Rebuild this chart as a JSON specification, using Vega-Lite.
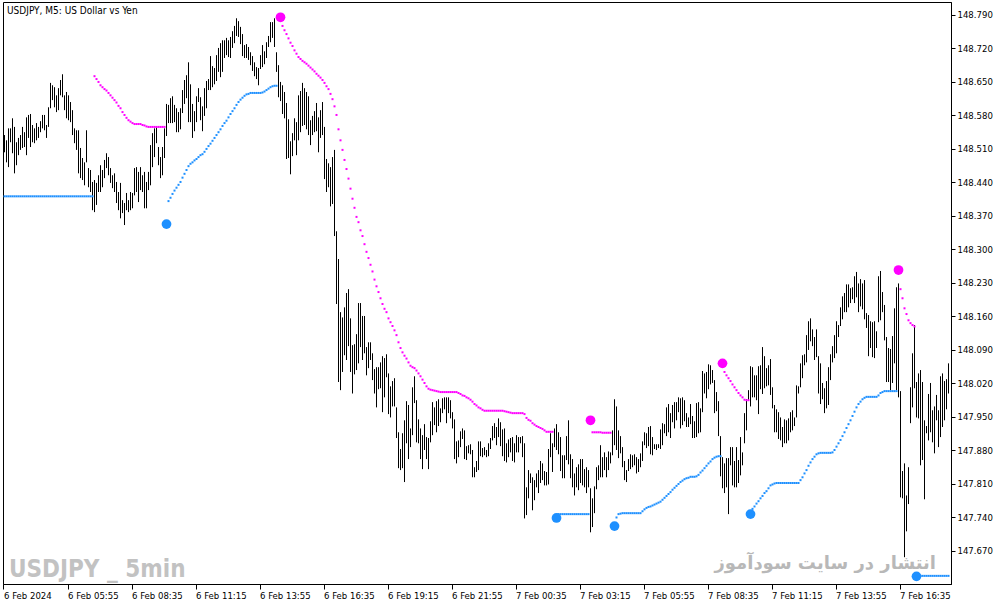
{
  "$schema": "https://vega.github.io/schema/vega-lite/v6.json",
  "width": 948,
  "height": 582,
  "autosize": {"type": "none"},
  "padding": {"left": 3, "top": 2, "right": 52, "bottom": 21},
  "background": "white",
  "title": {"text": "USDJPY, M5:  US Dollar vs Yen", "anchor": "start", "frame": "group", "orient": "top", "offset": -14, "dx": 4, "font": "DejaVu Sans Condensed, DejaVu Sans", "fontSize": 10, "fontWeight": "normal", "color": "black"},
  "datasets": {
    "bars": [
      {"i":0,"v":148.539,"l":148.503},{"i":1,"v":148.528,"l":148.482},{"i":2,"v":148.553,"l":148.472},{"i":3,"v":148.553,"l":148.524},{"i":4,"v":148.574,"l":148.501},
      {"i":5,"v":148.556,"l":148.459},{"i":6,"v":148.524,"l":148.476},{"i":7,"v":148.533,"l":148.497},{"i":8,"v":148.539,"l":148.508},{"i":9,"v":148.556,"l":148.512},
      {"i":10,"v":148.545,"l":148.514},{"i":11,"v":148.576,"l":148.497},{"i":12,"v":148.581,"l":148.533},{"i":13,"v":148.583,"l":148.514},{"i":14,"v":148.560,"l":148.524},
      {"i":15,"v":148.553,"l":148.522},{"i":16,"v":148.564,"l":148.528},{"i":17,"v":148.556,"l":148.533},{"i":18,"v":148.568,"l":148.545},{"i":19,"v":148.581,"l":148.553},
      {"i":20,"v":148.581,"l":148.549},{"i":21,"v":148.560,"l":148.533},{"i":22,"v":148.597,"l":148.556},{"i":23,"v":148.648,"l":148.595},{"i":24,"v":148.643,"l":148.612},
      {"i":25,"v":148.639,"l":148.597},{"i":26,"v":148.622,"l":148.587},{"i":27,"v":148.637,"l":148.591},{"i":28,"v":148.654,"l":148.622},{"i":29,"v":148.666,"l":148.618},
      {"i":30,"v":148.622,"l":148.591},{"i":31,"v":148.629,"l":148.574},{"i":32,"v":148.622,"l":148.570},{"i":33,"v":148.608,"l":148.566},{"i":34,"v":148.591,"l":148.539},
      {"i":35,"v":148.553,"l":148.522},{"i":36,"v":148.549,"l":148.508},{"i":37,"v":148.549,"l":148.459},{"i":38,"v":148.512,"l":148.449},{"i":39,"v":148.491,"l":148.445},
      {"i":40,"v":148.482,"l":148.434},{"i":41,"v":148.549,"l":148.482},{"i":42,"v":148.470,"l":148.430},{"i":43,"v":148.466,"l":148.420},{"i":44,"v":148.441,"l":148.382},
      {"i":45,"v":148.445,"l":148.378},{"i":46,"v":148.439,"l":148.393},{"i":47,"v":148.455,"l":148.420},{"i":48,"v":148.476,"l":148.420},{"i":49,"v":148.466,"l":148.430},
      {"i":50,"v":148.487,"l":148.449},{"i":51,"v":148.501,"l":148.470},{"i":52,"v":148.493,"l":148.455},{"i":53,"v":148.470,"l":148.439},{"i":54,"v":148.455,"l":148.428},
      {"i":55,"v":148.459,"l":148.420},{"i":56,"v":148.441,"l":148.397},{"i":57,"v":148.420,"l":148.382},{"i":58,"v":148.439,"l":148.365},{"i":59,"v":148.403,"l":148.376},
      {"i":60,"v":148.397,"l":148.351},{"i":61,"v":148.418,"l":148.382},{"i":62,"v":148.403,"l":148.378},{"i":63,"v":148.420,"l":148.382},{"i":64,"v":148.418,"l":148.386},
      {"i":65,"v":148.470,"l":148.413},{"i":66,"v":148.472,"l":148.420},{"i":67,"v":148.462,"l":148.399},{"i":68,"v":148.472,"l":148.424},{"i":69,"v":148.455,"l":148.420},
      {"i":70,"v":148.462,"l":148.386},{"i":71,"v":148.441,"l":148.386},{"i":72,"v":148.462,"l":148.424},{"i":73,"v":148.518,"l":148.434},{"i":74,"v":148.543,"l":148.472},
      {"i":75,"v":148.553,"l":148.493},{"i":76,"v":148.556,"l":148.522},{"i":77,"v":148.514,"l":148.476},{"i":78,"v":148.493,"l":148.449},{"i":79,"v":148.514,"l":148.455},
      {"i":80,"v":148.553,"l":148.491},{"i":81,"v":148.604,"l":148.537},{"i":82,"v":148.602,"l":148.564},{"i":83,"v":148.616,"l":148.564},{"i":84,"v":148.620,"l":148.564},
      {"i":85,"v":148.602,"l":148.566},{"i":86,"v":148.595,"l":148.545},{"i":87,"v":148.587,"l":148.545},{"i":88,"v":148.595,"l":148.551},{"i":89,"v":148.633,"l":148.585},
      {"i":90,"v":148.654,"l":148.604},{"i":91,"v":148.664,"l":148.616},{"i":92,"v":148.691,"l":148.566},{"i":93,"v":148.645,"l":148.566},{"i":94,"v":148.604,"l":148.533},
      {"i":95,"v":148.589,"l":148.547},{"i":96,"v":148.620,"l":148.566},{"i":97,"v":148.637,"l":148.608},{"i":98,"v":148.618,"l":148.570},{"i":99,"v":148.599,"l":148.547},
      {"i":100,"v":148.637,"l":148.579},{"i":101,"v":148.652,"l":148.595},{"i":102,"v":148.656,"l":148.633},{"i":103,"v":148.704,"l":148.633},{"i":104,"v":148.683,"l":148.639},
      {"i":105,"v":148.679,"l":148.645},{"i":106,"v":148.706,"l":148.652},{"i":107,"v":148.721,"l":148.671},{"i":108,"v":148.731,"l":148.660},{"i":109,"v":148.737,"l":148.671},
      {"i":110,"v":148.737,"l":148.700},{"i":111,"v":148.742,"l":148.706},{"i":112,"v":148.737,"l":148.702},{"i":113,"v":148.744,"l":148.700},{"i":114,"v":148.756,"l":148.721},
      {"i":115,"v":148.767,"l":148.731},{"i":116,"v":148.783,"l":148.746},{"i":117,"v":148.777,"l":148.744},{"i":118,"v":148.765,"l":148.729},{"i":119,"v":148.750,"l":148.704},
      {"i":120,"v":148.727,"l":148.700},{"i":121,"v":148.729,"l":148.700},{"i":122,"v":148.723,"l":148.696},{"i":123,"v":148.712,"l":148.685},{"i":124,"v":148.704,"l":148.673},
      {"i":125,"v":148.691,"l":148.662},{"i":126,"v":148.681,"l":148.656},{"i":127,"v":148.679,"l":148.643},{"i":128,"v":148.706,"l":148.677},{"i":129,"v":148.727,"l":148.681},
      {"i":130,"v":148.714,"l":148.687},{"i":131,"v":148.733,"l":148.700},{"i":132,"v":148.746,"l":148.723},{"i":133,"v":148.775,"l":148.733},{"i":134,"v":148.775,"l":148.742},
      {"i":135,"v":148.783,"l":148.723},{"i":136,"v":148.712,"l":148.671},{"i":137,"v":148.685,"l":148.618},{"i":138,"v":148.650,"l":148.610},{"i":139,"v":148.643,"l":148.583},
      {"i":140,"v":148.629,"l":148.574},{"i":141,"v":148.606,"l":148.489},{"i":142,"v":148.572,"l":148.491},{"i":143,"v":148.526,"l":148.457},{"i":144,"v":148.543,"l":148.495},
      {"i":145,"v":148.574,"l":148.528},{"i":146,"v":148.566,"l":148.497},{"i":147,"v":148.622,"l":148.528},{"i":148,"v":148.631,"l":148.545},{"i":149,"v":148.648,"l":148.558},
      {"i":150,"v":148.637,"l":148.560},{"i":151,"v":148.629,"l":148.551},{"i":152,"v":148.620,"l":148.539},{"i":153,"v":148.570,"l":148.518},{"i":154,"v":148.579,"l":148.539},
      {"i":155,"v":148.589,"l":148.545},{"i":156,"v":148.606,"l":148.547},{"i":157,"v":148.576,"l":148.503},{"i":158,"v":148.591,"l":148.533},{"i":159,"v":148.608,"l":148.539},
      {"i":160,"v":148.556,"l":148.447},{"i":161,"v":148.489,"l":148.420},{"i":162,"v":148.480,"l":148.430},{"i":163,"v":148.472,"l":148.390},{"i":164,"v":148.493,"l":148.395},
      {"i":165,"v":148.508,"l":148.328},{"i":166,"v":148.338,"l":148.186},{"i":167,"v":148.280,"l":148.023},{"i":168,"v":148.169,"l":148.006},{"i":169,"v":148.158,"l":148.044},
      {"i":170,"v":148.179,"l":148.079},{"i":171,"v":148.209,"l":148.069},{"i":172,"v":148.217,"l":148.098},{"i":173,"v":148.156,"l":148.044},{"i":174,"v":148.100,"l":147.999},
      {"i":175,"v":148.102,"l":148.039},{"i":176,"v":148.123,"l":148.048},{"i":177,"v":148.188,"l":148.062},{"i":178,"v":148.188,"l":148.096},{"i":179,"v":148.161,"l":148.069},
      {"i":180,"v":148.161,"l":148.083},{"i":181,"v":148.096,"l":148.037},{"i":182,"v":148.106,"l":148.052},{"i":183,"v":148.106,"l":148.069},{"i":184,"v":148.083,"l":148.027},
      {"i":185,"v":148.050,"l":147.999},{"i":186,"v":148.054,"l":147.970},{"i":187,"v":148.054,"l":148.008},{"i":188,"v":148.064,"l":148.010},{"i":189,"v":148.077,"l":147.960},
      {"i":190,"v":148.073,"l":147.991},{"i":191,"v":148.081,"l":148.033},{"i":192,"v":148.041,"l":147.956},{"i":193,"v":148.014,"l":147.949},{"i":194,"v":148.025,"l":147.972},
      {"i":195,"v":148.031,"l":147.972},{"i":196,"v":147.970,"l":147.906},{"i":197,"v":147.918,"l":147.843},{"i":198,"v":147.883,"l":147.839},{"i":199,"v":147.916,"l":147.843},
      {"i":200,"v":147.943,"l":147.814},{"i":201,"v":147.983,"l":147.895},{"i":202,"v":147.975,"l":147.862},{"i":203,"v":147.926,"l":147.887},{"i":204,"v":148.012,"l":147.912},
      {"i":205,"v":148.035,"l":147.979},{"i":206,"v":147.985,"l":147.897},{"i":207,"v":147.945,"l":147.895},{"i":208,"v":147.926,"l":147.862},{"i":209,"v":147.912,"l":147.841},
      {"i":210,"v":147.935,"l":147.881},{"i":211,"v":147.908,"l":147.862},{"i":212,"v":147.906,"l":147.841},{"i":213,"v":147.941,"l":147.897},{"i":214,"v":147.981,"l":147.912},
      {"i":215,"v":147.970,"l":147.933},{"i":216,"v":147.983,"l":147.918},{"i":217,"v":147.987,"l":147.931},{"i":218,"v":147.968,"l":147.939},{"i":219,"v":147.989,"l":147.958},
      {"i":220,"v":147.991,"l":147.966},{"i":221,"v":147.991,"l":147.937},{"i":222,"v":147.991,"l":147.958},{"i":223,"v":147.985,"l":147.947},{"i":224,"v":147.960,"l":147.926},
      {"i":225,"v":147.945,"l":147.862},{"i":226,"v":147.899,"l":147.853},{"i":227,"v":147.901,"l":147.866},{"i":228,"v":147.920,"l":147.887},{"i":229,"v":147.926,"l":147.904},
      {"i":230,"v":147.922,"l":147.862},{"i":231,"v":147.889,"l":147.860},{"i":232,"v":147.891,"l":147.874},{"i":233,"v":147.893,"l":147.872},{"i":234,"v":147.881,"l":147.824},
      {"i":235,"v":147.845,"l":147.824},{"i":236,"v":147.858,"l":147.835},{"i":237,"v":147.899,"l":147.839},{"i":238,"v":147.899,"l":147.868},{"i":239,"v":147.885,"l":147.866},
      {"i":240,"v":147.887,"l":147.870},{"i":241,"v":147.881,"l":147.866},{"i":242,"v":147.895,"l":147.868},{"i":243,"v":147.906,"l":147.883},{"i":244,"v":147.931,"l":147.901},
      {"i":245,"v":147.937,"l":147.906},{"i":246,"v":147.929,"l":147.891},{"i":247,"v":147.947,"l":147.908},{"i":248,"v":147.939,"l":147.889},{"i":249,"v":147.924,"l":147.868},
      {"i":250,"v":147.926,"l":147.858},{"i":251,"v":147.895,"l":147.855},{"i":252,"v":147.903,"l":147.866},{"i":253,"v":147.906,"l":147.876},{"i":254,"v":147.908,"l":147.858},
      {"i":255,"v":147.895,"l":147.855},{"i":256,"v":147.912,"l":147.876},{"i":257,"v":147.908,"l":147.876},{"i":258,"v":147.908,"l":147.895},{"i":259,"v":147.910,"l":147.866},
      {"i":260,"v":147.895,"l":147.738},{"i":261,"v":147.803,"l":147.745},{"i":262,"v":147.839,"l":147.780},{"i":263,"v":147.832,"l":147.812},{"i":264,"v":147.824,"l":147.755},
      {"i":265,"v":147.818,"l":147.776},{"i":266,"v":147.832,"l":147.803},{"i":267,"v":147.839,"l":147.791},{"i":268,"v":147.858,"l":147.812},{"i":269,"v":147.853,"l":147.818},
      {"i":270,"v":147.837,"l":147.807},{"i":271,"v":147.835,"l":147.807},{"i":272,"v":147.883,"l":147.809},{"i":273,"v":147.916,"l":147.866},{"i":274,"v":147.895,"l":147.835},
      {"i":275,"v":147.926,"l":147.887},{"i":276,"v":147.935,"l":147.881},{"i":277,"v":147.918,"l":147.872},{"i":278,"v":147.908,"l":147.837},{"i":279,"v":147.870,"l":147.822},
      {"i":280,"v":147.870,"l":147.822},{"i":281,"v":147.910,"l":147.860},{"i":282,"v":147.943,"l":147.851},{"i":283,"v":147.872,"l":147.822},{"i":284,"v":147.862,"l":147.803},
      {"i":285,"v":147.832,"l":147.786},{"i":286,"v":147.845,"l":147.803},{"i":287,"v":147.851,"l":147.797},{"i":288,"v":147.862,"l":147.812},{"i":289,"v":147.862,"l":147.807},
      {"i":290,"v":147.841,"l":147.803},{"i":291,"v":147.845,"l":147.791},{"i":292,"v":147.839,"l":147.803},{"i":293,"v":147.801,"l":147.709},{"i":294,"v":147.780,"l":147.720},
      {"i":295,"v":147.805,"l":147.749},{"i":296,"v":147.845,"l":147.799},{"i":297,"v":147.849,"l":147.818},{"i":298,"v":147.891,"l":147.824},{"i":299,"v":147.866,"l":147.824},
      {"i":300,"v":147.876,"l":147.839},{"i":301,"v":147.866,"l":147.824},{"i":302,"v":147.878,"l":147.839},{"i":303,"v":147.876,"l":147.853},{"i":304,"v":147.922,"l":147.870},
      {"i":305,"v":147.987,"l":147.891},{"i":306,"v":147.972,"l":147.881},{"i":307,"v":147.922,"l":147.864},{"i":308,"v":147.910,"l":147.874},{"i":309,"v":147.887,"l":147.845},
      {"i":310,"v":147.858,"l":147.818},{"i":311,"v":147.839,"l":147.814},{"i":312,"v":147.862,"l":147.837},{"i":313,"v":147.872,"l":147.841},{"i":314,"v":147.870,"l":147.845},
      {"i":315,"v":147.872,"l":147.849},{"i":316,"v":147.866,"l":147.832},{"i":317,"v":147.862,"l":147.835},{"i":318,"v":147.874,"l":147.845},{"i":319,"v":147.899,"l":147.858},
      {"i":320,"v":147.918,"l":147.891},{"i":321,"v":147.916,"l":147.885},{"i":322,"v":147.929,"l":147.889},{"i":323,"v":147.931,"l":147.872},{"i":324,"v":147.908,"l":147.870},
      {"i":325,"v":147.893,"l":147.883},{"i":326,"v":147.893,"l":147.881},{"i":327,"v":147.893,"l":147.885},{"i":328,"v":147.924,"l":147.883},{"i":329,"v":147.937,"l":147.891},
      {"i":330,"v":147.935,"l":147.916},{"i":331,"v":147.970,"l":147.910},{"i":332,"v":147.977,"l":147.918},{"i":333,"v":147.958,"l":147.906},{"i":334,"v":147.975,"l":147.939},
      {"i":335,"v":147.981,"l":147.926},{"i":336,"v":147.981,"l":147.943},{"i":337,"v":147.991,"l":147.960},{"i":338,"v":147.989,"l":147.926},{"i":339,"v":147.991,"l":147.933},
      {"i":340,"v":147.985,"l":147.941},{"i":341,"v":147.958,"l":147.929},{"i":342,"v":147.949,"l":147.929},{"i":343,"v":147.977,"l":147.935},{"i":344,"v":147.952,"l":147.906},
      {"i":345,"v":147.941,"l":147.906},{"i":346,"v":147.979,"l":147.908},{"i":347,"v":147.981,"l":147.916},{"i":348,"v":147.968,"l":147.918},{"i":349,"v":148.046,"l":147.960},
      {"i":350,"v":148.041,"l":147.999},{"i":351,"v":148.044,"l":147.989},{"i":352,"v":148.060,"l":148.008},{"i":353,"v":148.058,"l":148.018},{"i":354,"v":148.048,"l":148.021},
      {"i":355,"v":148.027,"l":147.958},{"i":356,"v":148.002,"l":147.962},{"i":357,"v":147.983,"l":147.910},{"i":358,"v":147.910,"l":147.826},{"i":359,"v":147.866,"l":147.801},
      {"i":360,"v":147.853,"l":147.791},{"i":361,"v":147.864,"l":147.803},{"i":362,"v":147.864,"l":147.747},{"i":363,"v":147.887,"l":147.849},{"i":364,"v":147.887,"l":147.807},
      {"i":365,"v":147.858,"l":147.803},{"i":366,"v":147.887,"l":147.803},{"i":367,"v":147.860,"l":147.812},{"i":368,"v":147.908,"l":147.828},{"i":369,"v":147.876,"l":147.849},
      {"i":370,"v":147.958,"l":147.895},{"i":371,"v":147.987,"l":147.922},{"i":372,"v":148.006,"l":147.985},{"i":373,"v":148.056,"l":147.972},{"i":374,"v":148.054,"l":147.991},
      {"i":375,"v":148.037,"l":147.991},{"i":376,"v":148.037,"l":147.985},{"i":377,"v":148.056,"l":147.956},{"i":378,"v":148.058,"l":148.008},{"i":379,"v":148.096,"l":147.998},
      {"i":380,"v":148.077,"l":148.010},{"i":381,"v":148.052,"l":148.014},{"i":382,"v":148.058,"l":148.016},{"i":383,"v":148.071,"l":147.996},{"i":384,"v":148.012,"l":147.968},
      {"i":385,"v":147.975,"l":147.918},{"i":386,"v":147.966,"l":147.918},{"i":387,"v":147.960,"l":147.904},{"i":388,"v":147.949,"l":147.901},{"i":389,"v":147.929,"l":147.887},
      {"i":390,"v":147.945,"l":147.895},{"i":391,"v":147.943,"l":147.895},{"i":392,"v":147.947,"l":147.901},{"i":393,"v":147.960,"l":147.918},{"i":394,"v":147.964,"l":147.922},
      {"i":395,"v":147.949,"l":147.931},{"i":396,"v":148.016,"l":147.949},{"i":397,"v":148.014,"l":147.999},{"i":398,"v":148.062,"l":148.012},{"i":399,"v":148.079,"l":148.031},
      {"i":400,"v":148.081,"l":148.058},{"i":401,"v":148.121,"l":148.064},{"i":402,"v":148.150,"l":148.090},{"i":403,"v":148.156,"l":148.108},{"i":404,"v":148.133,"l":148.098},
      {"i":405,"v":148.117,"l":148.069},{"i":406,"v":148.133,"l":148.075},{"i":407,"v":148.077,"l":147.999},{"i":408,"v":148.062,"l":147.977},{"i":409,"v":148.021,"l":147.987},
      {"i":410,"v":148.010,"l":147.958},{"i":411,"v":148.025,"l":147.968},{"i":412,"v":148.054,"l":147.975},{"i":413,"v":148.081,"l":148.027},{"i":414,"v":148.098,"l":148.064},
      {"i":415,"v":148.121,"l":148.073},{"i":416,"v":148.150,"l":148.083},{"i":417,"v":148.142,"l":148.117},{"i":418,"v":148.179,"l":148.140},{"i":419,"v":148.202,"l":148.154},
      {"i":420,"v":148.209,"l":148.169},{"i":421,"v":148.227,"l":148.169},{"i":422,"v":148.227,"l":148.179},{"i":423,"v":148.219,"l":148.188},{"i":424,"v":148.221,"l":148.196},
      {"i":425,"v":148.244,"l":148.188},{"i":426,"v":148.253,"l":148.200},{"i":427,"v":148.229,"l":148.169},{"i":428,"v":148.238,"l":148.181},{"i":429,"v":148.229,"l":148.175},
      {"i":430,"v":148.236,"l":148.154},{"i":431,"v":148.167,"l":148.136},{"i":432,"v":148.163,"l":148.077},{"i":433,"v":148.150,"l":148.094},{"i":434,"v":148.148,"l":148.075},
      {"i":435,"v":148.150,"l":148.073},{"i":436,"v":148.129,"l":148.094},{"i":437,"v":148.244,"l":148.148},{"i":438,"v":148.255,"l":148.152},{"i":439,"v":148.211,"l":148.169},
      {"i":440,"v":148.184,"l":148.110},{"i":441,"v":148.117,"l":148.023},{"i":442,"v":148.094,"l":148.023},{"i":443,"v":148.092,"l":148.006},{"i":444,"v":148.119,"l":148.021},
      {"i":445,"v":148.177,"l":148.062},{"i":446,"v":148.221,"l":148.006},{"i":447,"v":148.229,"l":147.991},{"i":448,"v":148.004,"l":147.782},{"i":449,"v":147.837,"l":147.780},
      {"i":450,"v":147.853,"l":147.657},{"i":451,"v":147.786,"l":147.711},{"i":452,"v":147.845,"l":147.768},{"i":453,"v":148.012,"l":147.937},{"i":454,"v":148.083,"l":147.970},
      {"i":455,"v":148.142,"l":148.010},{"i":456,"v":148.023,"l":147.949},{"i":457,"v":148.041,"l":147.947},{"i":458,"v":148.048,"l":147.849},{"i":459,"v":148.023,"l":147.860},
      {"i":460,"v":147.943,"l":147.778},{"i":461,"v":147.931,"l":147.916},{"i":462,"v":147.998,"l":147.901},{"i":463,"v":148.021,"l":147.918},{"i":464,"v":147.964,"l":147.897},
      {"i":465,"v":147.972,"l":147.874},{"i":466,"v":147.996,"l":147.943},{"i":467,"v":147.964,"l":147.887},{"i":468,"v":148.035,"l":147.908},{"i":469,"v":148.041,"l":147.929},
      {"i":470,"v":148.025,"l":147.943},{"i":471,"v":148.029,"l":147.966},{"i":472,"v":148.062,"l":147.999}
    ],
    "upper": [
      {"i":45,"v":148.662},{"i":46,"v":148.656},{"i":47,"v":148.650},{"i":48,"v":148.643},{"i":49,"v":148.639},{"i":50,"v":148.635},{"i":51,"v":148.632},{"i":52,"v":148.627},
      {"i":53,"v":148.622},{"i":54,"v":148.617},{"i":55,"v":148.612},{"i":56,"v":148.607},{"i":57,"v":148.600},{"i":58,"v":148.595},{"i":59,"v":148.587},{"i":60,"v":148.581},
      {"i":61,"v":148.575},{"i":62,"v":148.570},{"i":63,"v":148.567},{"i":64,"v":148.564},{"i":65,"v":148.562},{"i":66,"v":148.562},{"i":67,"v":148.562},{"i":68,"v":148.562},
      {"i":69,"v":148.560},{"i":70,"v":148.559},{"i":71,"v":148.557},{"i":72,"v":148.556},{"i":73,"v":148.556},{"i":74,"v":148.556},{"i":75,"v":148.556},{"i":76,"v":148.556},
      {"i":77,"v":148.556},{"i":78,"v":148.556},{"i":79,"v":148.556},{"i":80,"v":148.556},
      {"i":139,"v":148.767},{"i":140,"v":148.758},{"i":141,"v":148.750},{"i":142,"v":148.741},{"i":143,"v":148.732},{"i":144,"v":148.725},{"i":145,"v":148.716},{"i":146,"v":148.709},
      {"i":147,"v":148.702},{"i":148,"v":148.698},{"i":149,"v":148.694},{"i":150,"v":148.691},{"i":151,"v":148.688},{"i":152,"v":148.684},{"i":153,"v":148.680},{"i":154,"v":148.676},
      {"i":155,"v":148.672},{"i":156,"v":148.667},{"i":157,"v":148.663},{"i":158,"v":148.659},{"i":159,"v":148.654},{"i":160,"v":148.648},{"i":161,"v":148.641},{"i":162,"v":148.635},
      {"i":163,"v":148.625},{"i":164,"v":148.614},{"i":165,"v":148.599},{"i":166,"v":148.581},{"i":167,"v":148.551},{"i":168,"v":148.528},{"i":169,"v":148.508},{"i":170,"v":148.487},
      {"i":171,"v":148.468},{"i":172,"v":148.448},{"i":173,"v":148.427},{"i":174,"v":148.406},{"i":175,"v":148.387},{"i":176,"v":148.368},{"i":177,"v":148.357},{"i":178,"v":148.340},
      {"i":179,"v":148.328},{"i":180,"v":148.311},{"i":181,"v":148.295},{"i":182,"v":148.282},{"i":183,"v":148.268},{"i":184,"v":148.254},{"i":185,"v":148.237},{"i":186,"v":148.223},
      {"i":187,"v":148.211},{"i":188,"v":148.198},{"i":189,"v":148.186},{"i":190,"v":148.176},{"i":191,"v":148.169},{"i":192,"v":148.156},{"i":193,"v":148.148},{"i":194,"v":148.140},
      {"i":195,"v":148.131},{"i":196,"v":148.121},{"i":197,"v":148.106},{"i":198,"v":148.094},{"i":199,"v":148.085},{"i":200,"v":148.078},{"i":201,"v":148.072},{"i":202,"v":148.064},
      {"i":203,"v":148.057},{"i":204,"v":148.054},{"i":205,"v":148.052},{"i":206,"v":148.047},{"i":207,"v":148.041},{"i":208,"v":148.035},{"i":209,"v":148.028},{"i":210,"v":148.021},
      {"i":211,"v":148.014},{"i":212,"v":148.009},{"i":213,"v":148.007},{"i":214,"v":148.006},{"i":215,"v":148.005},{"i":216,"v":148.004},{"i":217,"v":148.003},{"i":218,"v":148.002},
      {"i":219,"v":148.002},{"i":220,"v":148.002},{"i":221,"v":148.002},{"i":222,"v":148.002},{"i":223,"v":148.002},{"i":224,"v":148.002},{"i":225,"v":148.002},{"i":226,"v":148.002},
      {"i":227,"v":148.000},{"i":228,"v":147.998},{"i":229,"v":147.995},{"i":230,"v":147.994},{"i":231,"v":147.991},{"i":232,"v":147.989},{"i":233,"v":147.986},{"i":234,"v":147.982},
      {"i":235,"v":147.977},{"i":236,"v":147.974},{"i":237,"v":147.970},{"i":238,"v":147.968},{"i":239,"v":147.965},{"i":240,"v":147.963},{"i":241,"v":147.963},{"i":242,"v":147.963},
      {"i":243,"v":147.963},{"i":244,"v":147.963},{"i":245,"v":147.963},{"i":246,"v":147.963},{"i":247,"v":147.963},{"i":248,"v":147.963},{"i":249,"v":147.963},{"i":250,"v":147.962},
      {"i":251,"v":147.961},{"i":252,"v":147.960},{"i":253,"v":147.959},{"i":254,"v":147.958},{"i":255,"v":147.958},{"i":256,"v":147.958},{"i":257,"v":147.958},{"i":258,"v":147.958},
      {"i":259,"v":147.958},{"i":260,"v":147.956},{"i":261,"v":147.948},{"i":262,"v":147.944},{"i":263,"v":147.942},{"i":264,"v":147.937},{"i":265,"v":147.934},{"i":266,"v":147.931},
      {"i":267,"v":147.929},{"i":268,"v":147.927},{"i":269,"v":147.925},{"i":270,"v":147.922},{"i":271,"v":147.919},{"i":272,"v":147.919},{"i":273,"v":147.919},{"i":274,"v":147.919},
      {"i":294,"v":147.918},{"i":295,"v":147.918},{"i":296,"v":147.918},{"i":297,"v":147.918},{"i":298,"v":147.918},{"i":299,"v":147.917},{"i":300,"v":147.917},{"i":301,"v":147.917},
      {"i":302,"v":147.917},{"i":303,"v":147.917},
      {"i":360,"v":148.044},{"i":361,"v":148.037},{"i":362,"v":148.031},{"i":363,"v":148.025},{"i":364,"v":148.018},{"i":365,"v":148.012},{"i":366,"v":148.006},{"i":367,"v":148.000},
      {"i":368,"v":147.995},{"i":369,"v":147.991},{"i":370,"v":147.986},{"i":371,"v":147.985},{"i":372,"v":147.985},
      {"i":448,"v":148.217},{"i":449,"v":148.198},{"i":450,"v":148.177},{"i":451,"v":148.165},{"i":452,"v":148.152},{"i":453,"v":148.146},{"i":454,"v":148.142},{"i":455,"v":148.139}
    ],
    "lower": [
      {"i":0,"v":148.411},{"i":1,"v":148.411},{"i":2,"v":148.411},{"i":3,"v":148.411},{"i":4,"v":148.411},{"i":5,"v":148.411},{"i":6,"v":148.411},{"i":7,"v":148.411},
      {"i":8,"v":148.411},{"i":9,"v":148.411},{"i":10,"v":148.411},{"i":11,"v":148.411},{"i":12,"v":148.411},{"i":13,"v":148.411},{"i":14,"v":148.411},{"i":15,"v":148.411},
      {"i":16,"v":148.411},{"i":17,"v":148.411},{"i":18,"v":148.411},{"i":19,"v":148.411},{"i":20,"v":148.411},{"i":21,"v":148.411},{"i":22,"v":148.411},{"i":23,"v":148.411},
      {"i":24,"v":148.411},{"i":25,"v":148.411},{"i":26,"v":148.411},{"i":27,"v":148.411},{"i":28,"v":148.411},{"i":29,"v":148.411},{"i":30,"v":148.411},{"i":31,"v":148.411},
      {"i":32,"v":148.411},{"i":33,"v":148.411},{"i":34,"v":148.411},{"i":35,"v":148.411},{"i":36,"v":148.411},{"i":37,"v":148.411},{"i":38,"v":148.411},{"i":39,"v":148.411},
      {"i":40,"v":148.411},{"i":41,"v":148.411},{"i":42,"v":148.411},{"i":43,"v":148.411},{"i":44,"v":148.411},
      {"i":82,"v":148.401},{"i":83,"v":148.408},{"i":84,"v":148.416},{"i":85,"v":148.423},{"i":86,"v":148.429},{"i":87,"v":148.435},{"i":88,"v":148.441},{"i":89,"v":148.450},
      {"i":90,"v":148.458},{"i":91,"v":148.466},{"i":92,"v":148.474},{"i":93,"v":148.479},{"i":94,"v":148.482},{"i":95,"v":148.486},{"i":96,"v":148.489},{"i":97,"v":148.493},
      {"i":98,"v":148.497},{"i":99,"v":148.499},{"i":100,"v":148.504},{"i":101,"v":148.510},{"i":102,"v":148.516},{"i":103,"v":148.521},{"i":104,"v":148.527},{"i":105,"v":148.533},
      {"i":106,"v":148.539},{"i":107,"v":148.545},{"i":108,"v":148.551},{"i":109,"v":148.558},{"i":110,"v":148.564},{"i":111,"v":148.569},{"i":112,"v":148.576},{"i":113,"v":148.583},
      {"i":114,"v":148.589},{"i":115,"v":148.595},{"i":116,"v":148.602},{"i":117,"v":148.608},{"i":118,"v":148.613},{"i":119,"v":148.617},{"i":120,"v":148.621},{"i":121,"v":148.624},
      {"i":122,"v":148.625},{"i":123,"v":148.627},{"i":124,"v":148.627},{"i":125,"v":148.627},{"i":126,"v":148.627},{"i":127,"v":148.627},{"i":128,"v":148.627},{"i":129,"v":148.628},
      {"i":130,"v":148.630},{"i":131,"v":148.633},{"i":132,"v":148.636},{"i":133,"v":148.639},{"i":134,"v":148.641},{"i":135,"v":148.642},{"i":136,"v":148.642},
      {"i":277,"v":147.747},{"i":278,"v":147.747},{"i":279,"v":147.747},{"i":280,"v":147.747},{"i":281,"v":147.747},{"i":282,"v":147.747},{"i":283,"v":147.747},{"i":284,"v":147.747},
      {"i":285,"v":147.747},{"i":286,"v":147.747},{"i":287,"v":147.747},{"i":288,"v":147.747},{"i":289,"v":147.747},{"i":290,"v":147.747},{"i":291,"v":147.747},{"i":292,"v":147.747},
      {"i":306,"v":147.740},{"i":307,"v":147.747},{"i":308,"v":147.748},{"i":309,"v":147.749},{"i":310,"v":147.749},{"i":311,"v":147.749},{"i":312,"v":147.749},{"i":313,"v":147.749},
      {"i":314,"v":147.749},{"i":315,"v":147.749},{"i":316,"v":147.749},{"i":317,"v":147.749},{"i":318,"v":147.749},{"i":319,"v":147.753},{"i":320,"v":147.757},{"i":321,"v":147.760},
      {"i":322,"v":147.762},{"i":323,"v":147.763},{"i":324,"v":147.765},{"i":325,"v":147.767},{"i":326,"v":147.769},{"i":327,"v":147.771},{"i":328,"v":147.773},{"i":329,"v":147.777},
      {"i":330,"v":147.781},{"i":331,"v":147.785},{"i":332,"v":147.789},{"i":333,"v":147.793},{"i":334,"v":147.798},{"i":335,"v":147.802},{"i":336,"v":147.806},{"i":337,"v":147.810},
      {"i":338,"v":147.814},{"i":339,"v":147.817},{"i":340,"v":147.820},{"i":341,"v":147.822},{"i":342,"v":147.823},{"i":343,"v":147.825},{"i":344,"v":147.825},{"i":345,"v":147.825},
      {"i":346,"v":147.826},{"i":347,"v":147.829},{"i":348,"v":147.834},{"i":349,"v":147.838},{"i":350,"v":147.843},{"i":351,"v":147.848},{"i":352,"v":147.853},{"i":353,"v":147.857},
      {"i":354,"v":147.862},{"i":355,"v":147.865},{"i":356,"v":147.867},{"i":357,"v":147.868},{"i":358,"v":147.868},
      {"i":374,"v":147.758},{"i":375,"v":147.763},{"i":376,"v":147.769},{"i":377,"v":147.774},{"i":378,"v":147.780},{"i":379,"v":147.785},{"i":380,"v":147.791},{"i":381,"v":147.795},
      {"i":382,"v":147.801},{"i":383,"v":147.807},{"i":384,"v":147.809},{"i":385,"v":147.811},{"i":386,"v":147.812},{"i":387,"v":147.812},{"i":388,"v":147.812},{"i":389,"v":147.812},
      {"i":390,"v":147.812},{"i":391,"v":147.812},{"i":392,"v":147.812},{"i":393,"v":147.812},{"i":394,"v":147.812},{"i":395,"v":147.812},{"i":396,"v":147.812},{"i":397,"v":147.812},
      {"i":398,"v":147.818},{"i":399,"v":147.824},{"i":400,"v":147.832},{"i":401,"v":147.839},{"i":402,"v":147.848},{"i":403,"v":147.855},{"i":404,"v":147.862},{"i":405,"v":147.867},
      {"i":406,"v":147.872},{"i":407,"v":147.874},{"i":408,"v":147.875},{"i":409,"v":147.875},{"i":410,"v":147.875},{"i":411,"v":147.875},{"i":412,"v":147.875},{"i":413,"v":147.875},
      {"i":414,"v":147.876},{"i":415,"v":147.881},{"i":416,"v":147.888},{"i":417,"v":147.895},{"i":418,"v":147.902},{"i":419,"v":147.910},{"i":420,"v":147.918},{"i":421,"v":147.927},
      {"i":422,"v":147.935},{"i":423,"v":147.943},{"i":424,"v":147.952},{"i":425,"v":147.961},{"i":426,"v":147.970},{"i":427,"v":147.977},{"i":428,"v":147.982},{"i":429,"v":147.987},
      {"i":430,"v":147.990},{"i":431,"v":147.992},{"i":432,"v":147.992},{"i":433,"v":147.992},{"i":434,"v":147.992},{"i":435,"v":147.992},{"i":436,"v":147.992},{"i":437,"v":147.995},
      {"i":438,"v":148.000},{"i":439,"v":148.002},{"i":440,"v":148.004},{"i":441,"v":148.004},{"i":442,"v":148.004},{"i":443,"v":148.004},{"i":444,"v":148.004},{"i":445,"v":148.004},
      {"i":446,"v":148.004},
      {"i":457,"v":147.618},{"i":458,"v":147.618},{"i":459,"v":147.618},{"i":460,"v":147.618},{"i":461,"v":147.618},{"i":462,"v":147.618},{"i":463,"v":147.618},{"i":464,"v":147.618},
      {"i":465,"v":147.618},{"i":466,"v":147.618},{"i":467,"v":147.618},{"i":468,"v":147.618},{"i":469,"v":147.618},{"i":470,"v":147.618},{"i":471,"v":147.618},{"i":472,"v":147.618}
    ],
    "signals": [
      {"i":81,"v":148.353,"side":"buy"},{"i":138,"v":148.785,"side":"sell"},{"i":276,"v":147.739,"side":"buy"},{"i":293,"v":147.943,"side":"sell"},
      {"i":305,"v":147.722,"side":"buy"},{"i":359,"v":148.062,"side":"sell"},{"i":373,"v":147.747,"side":"buy"},{"i":447,"v":148.257,"side":"sell"},
      {"i":456,"v":147.617,"side":"buy"}
    ]
  },
  "encoding": {
    "x": {
      "field": "i", "type": "quantitative",
      "scale": {"domain": [-0.75, 473.25], "nice": false, "zero": false},
      "axis": {
        "values": [-0.5, 31.5, 63.5, 95.5, 127.5, 159.5, 191.5, 223.5, 255.5, 287.5, 319.5, 351.5, 383.5, 415.5, 447.5],
        "labelExpr": "['6 Feb 2024','6 Feb 05:55','6 Feb 08:35','6 Feb 11:15','6 Feb 13:55','6 Feb 16:35','6 Feb 19:15','6 Feb 21:55','7 Feb 00:35','7 Feb 03:15','7 Feb 05:55','7 Feb 08:35','7 Feb 11:15','7 Feb 13:55','7 Feb 16:35'][round((datum.value + 0.5) / 32)]",
        "labelAlign": "left", "labelFlush": false, "labelOverlap": false, "labelBound": false,
        "grid": false, "title": null, "tickSize": 5, "labelPadding": 1
      }
    },
    "y": {
      "field": "v", "type": "quantitative",
      "scale": {"domain": [147.601, 148.817], "nice": false, "zero": false},
      "axis": {
        "orient": "right",
        "values": [147.67, 147.74, 147.81, 147.88, 147.95, 148.02, 148.09, 148.16, 148.23, 148.30, 148.37, 148.44, 148.51, 148.58, 148.65, 148.72, 148.79],
        "format": ".3f", "grid": false, "title": null, "tickSize": 4, "labelPadding": 2,
        "labelOverlap": false, "labelSeparation": 0, "labelBound": false, "labelFlush": false
      }
    }
  },
  "layer": [
    {
      "data": {"values": [{"label": "USDJPY _ 5min", "i": 2.25, "v": 147.615}]},
      "mark": {"type": "text", "align": "left", "baseline": "alphabetic", "font": "DejaVu Sans Condensed", "fontWeight": "bold", "fontSize": 24, "color": "#c2c2c2"},
      "encoding": {"text": {"field": "label"}}
    },
    {
      "data": {"values": [{"label": "انتشار در سایت سودآموز", "i": 465.75, "v": 147.632}]},
      "mark": {"type": "text", "align": "right", "baseline": "alphabetic", "font": "DejaVu Sans", "fontWeight": "bold", "fontSize": 18, "color": "#b8b8b8"},
      "encoding": {"text": {"field": "label"}}
    },
    {
      "data": {"name": "bars"},
      "mark": {"type": "rule", "color": "black", "strokeWidth": 1},
      "encoding": {"y2": {"field": "l"}}
    },
    {
      "data": {"name": "upper"},
      "mark": {"type": "square", "size": 4, "color": "#ff00ff", "filled": true, "opacity": 1}
    },
    {
      "data": {"name": "lower"},
      "mark": {"type": "square", "size": 4, "color": "#1e90ff", "filled": true, "opacity": 1}
    },
    {
      "data": {"name": "signals"},
      "mark": {"type": "circle", "size": 95, "opacity": 1},
      "encoding": {
        "color": {"field": "side", "type": "nominal", "scale": {"domain": ["buy", "sell"], "range": ["#1e90ff", "#ff00ff"]}, "legend": null}
      }
    }
  ],
  "config": {
    "view": {"stroke": "black", "strokeWidth": 1},
    "axis": {
      "domainColor": "black", "tickColor": "black", "labelColor": "black",
      "labelFont": "DejaVu Sans Condensed, DejaVu Sans", "labelFontSize": 9.5
    }
  }
}
